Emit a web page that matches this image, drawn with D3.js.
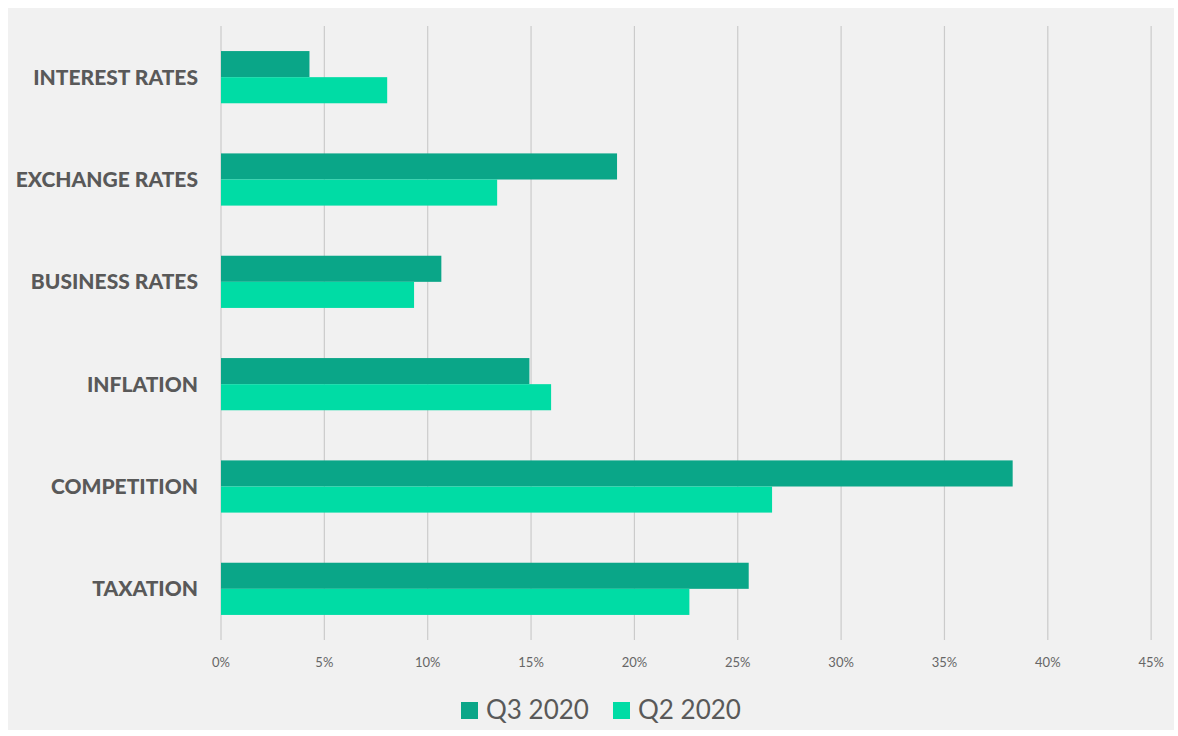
<!DOCTYPE html>
<html>
<head>
<meta charset="utf-8">
<script src="https://cdn.jsdelivr.net/npm/d3@7"></script>
<style>
  body { margin: 0; background: #ffffff; }
  svg { display: block; }
</style>
</head>
<body>
<div id="chart"></div>
<script>
const categories = ["INTEREST RATES", "EXCHANGE RATES", "BUSINESS RATES", "INFLATION", "COMPETITION", "TAXATION"];
const seriesNames = ["Q3 2020", "Q2 2020"];
const q3Values = [4.28, 19.16, 10.66, 14.92, 38.3, 25.53];
const q2Values = [8.04, 13.36, 9.34, 15.97, 26.66, 22.66];
const tickValues = [0, 5, 10, 15, 20, 25, 30, 35, 40, 45];
const colors = ["#0aa688", "#00dca5"];

const width = 1178, height = 736;
const margin = { top: 26, right: 28, bottom: 96, left: 221 };

const svg = d3.select("#chart").append("svg")
  .attr("width", width)
  .attr("height", height);

// grey panel
svg.append("rect")
  .attr("x", 8).attr("y", 8)
  .attr("width", width - 12).attr("height", height - 14)
  .attr("fill", "#f1f1f1");

const x = d3.scaleLinear()
  .domain([0, 45])
  .range([margin.left, margin.left + 45 * 20.67]);

const y = d3.scaleBand()
  .domain(categories)
  .range([margin.top, height - margin.bottom])
  .paddingInner(0.49)
  .paddingOuter(0.245);

const sub = d3.scaleBand()
  .domain(seriesNames)
  .range([0, y.bandwidth()]);

// gridlines
svg.append("g")
  .selectAll("line")
  .data(tickValues)
  .join("line")
  .attr("x1", d => x(d)).attr("x2", d => x(d))
  .attr("y1", margin.top).attr("y2", height - margin.bottom)
  .attr("stroke", "#cbcbcb")
  .attr("stroke-width", 1.2);

// tick labels
svg.append("g")
  .selectAll("text")
  .data(tickValues)
  .join("text")
  .attr("x", d => x(d))
  .attr("y", 667)
  .attr("text-anchor", "middle")
  .attr("font-family", "Lato, 'Open Sans', sans-serif")
  .attr("font-size", 13)
  .attr("fill", "#666")
  .text(d => d + "%");

// bars
const rows = categories.map((c, i) => ({ cat: c, vals: [q3Values[i], q2Values[i]] }));

const groups = svg.append("g")
  .selectAll("g")
  .data(rows)
  .join("g")
  .attr("transform", d => `translate(0,${y(d.cat)})`);

groups.selectAll("rect")
  .data(d => d.vals.map((v, j) => ({ name: seriesNames[j], value: v, j })))
  .join("rect")
  .attr("x", x(0))
  .attr("y", d => sub(d.name))
  .attr("width", d => x(d.value) - x(0))
  .attr("height", sub.bandwidth())
  .attr("fill", d => colors[d.j]);

// category labels
svg.append("g")
  .selectAll("text")
  .data(categories)
  .join("text")
  .attr("x", 198)
  .attr("y", d => y(d) + y.bandwidth() / 2 + 7.5)
  .attr("text-anchor", "end")
  .attr("font-family", "Lato, 'Open Sans', sans-serif")
  .attr("font-weight", 900)
  .attr("font-size", 21)
  .attr("letter-spacing", 0)
  .attr("fill", "#595959")
  .text(d => d);

// legend
const legendX = [461, 613];
const legend = svg.append("g")
  .selectAll("g")
  .data(seriesNames)
  .join("g")
  .attr("transform", (d, i) => `translate(${legendX[i]},702)`);

legend.append("rect")
  .attr("width", 17).attr("height", 17)
  .attr("fill", (d, i) => colors[i]);

legend.append("text")
  .attr("x", 25)
  .attr("y", 17)
  .attr("font-family", "Lato, 'Open Sans', sans-serif")
  .attr("font-size", 26)
  .attr("fill", "#595959")
  .text(d => d);
</script>
</body>
</html>
